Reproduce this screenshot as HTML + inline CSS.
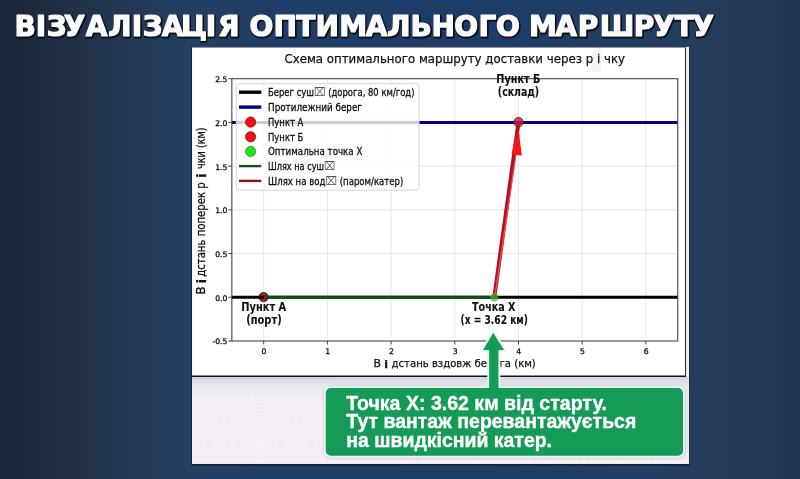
<!DOCTYPE html>
<html lang="uk">
<head>
<meta charset="utf-8">
<title>Візуалізація оптимального маршруту</title>
<style>
html,body{margin:0;padding:0;}
body{width:800px;height:479px;overflow:hidden;position:relative;
  background:linear-gradient(90deg,#1c2738 0%,#1e2c3f 6%,#22344c 12%,#233a57 18%,#233e5e 21%,#243f60 24%,#1e3d68 35%,#1d3d68 65%,#223e62 80%,#243d5e 86%,#233a58 95%,#1f3350 100%);
  font-family:"Liberation Sans","DejaVu Sans",sans-serif;}
svg{position:absolute;left:0;top:0;}
</style>
</head>
<body>
<svg width="800" height="479" viewBox="0 0 800 479">

<g font-family="DejaVu Sans, Liberation Sans, sans-serif" font-weight="bold" font-size="28" fill="#fbfbfb">
<g fill="#0b111c" stroke="#0b111c" stroke-width="3.2" stroke-linejoin="round" transform="translate(0.7,1)">
<text x="14.45 35.65 46.70 63.85 85.85 108.20 131.75 142.80 161.75 180.90 205.65 218.10" y="36">ВІЗУАЛІЗАЦІЯ</text>
<text x="249.55 273.50 296.35 315.55 339.15 365.70 387.20 410.50 431.55 454.25 478.60 496.05" y="36">ОПТИМАЛЬНОГО</text>
<text x="529.00 555.35 577.75 599.80 633.85 653.35 674.85 692.40" y="36">МАРШРУТУ</text>
</g><g stroke="#fbfbfb" stroke-width="1.2" stroke-linejoin="round">
<text x="14.45 35.65 46.70 63.85 85.85 108.20 131.75 142.80 161.75 180.90 205.65 218.10" y="36">ВІЗУАЛІЗАЦІЯ</text>
<text x="249.55 273.50 296.35 315.55 339.15 365.70 387.20 410.50 431.55 454.25 478.60 496.05" y="36">ОПТИМАЛЬНОГО</text>
<text x="529.00 555.35 577.75 599.80 633.85 653.35 674.85 692.40" y="36">МАРШРУТУ</text>
</g></g>
<defs>
<linearGradient id="lowg" x1="0" y1="0" x2="0" y2="1">
<stop offset="0" stop-color="#d2d3dc"/><stop offset="0.12" stop-color="#e9e8ef"/>
<stop offset="0.3" stop-color="#f4eff5"/><stop offset="1" stop-color="#f6f0f5"/>
</linearGradient>
<pattern id="grid" x="192" y="376" width="9" height="9" patternUnits="userSpaceOnUse">
<path d="M0,0.5 H9 M0.5,0 V9" stroke="#e2e0ea" stroke-width="0.8" fill="none"/>
</pattern>
</defs>
<rect x="191" y="46.3" width="498.5" height="419.3" fill="#10233f"/>
<rect x="192" y="46.8" width="497" height="417" fill="#f4f3f8"/>
<rect x="192" y="376" width="496.5" height="87.8" fill="url(#lowg)"/>
<rect x="192" y="376" width="496.5" height="87.8" fill="url(#grid)" opacity="0.35"/>
<rect x="192.6" y="47.6" width="492.6" height="328.4" fill="#ffffff"/>
<line x1="192" y1="376.3" x2="686" y2="376.3" stroke="#0e1420" stroke-width="1.4"/>
<line x1="685.6" y1="47.5" x2="685.6" y2="376.5" stroke="#1a1e26" stroke-width="1"/>
<line x1="192" y1="47.1" x2="686" y2="47.1" stroke="#1c2a40" stroke-width="0.8"/>

<rect x="591.5" y="51" width="9.8" height="21" fill="#f2f3f8"/>
<text x="284.5" y="63" font-size="12.9" fill="#111" stroke="#111" stroke-width="0.25" textLength="340.5" lengthAdjust="spacingAndGlyphs" font-family="DejaVu Sans, Liberation Sans, sans-serif">Схема оптимального маршруту доставки через р  і  чку</text>
<g stroke="#e5e5e5" stroke-width="0.9">
<line x1="263.70" y1="78.72" x2="263.70" y2="341.01"/>
<line x1="327.40" y1="78.72" x2="327.40" y2="341.01"/>
<line x1="391.10" y1="78.72" x2="391.10" y2="341.01"/>
<line x1="454.80" y1="78.72" x2="454.80" y2="341.01"/>
<line x1="518.50" y1="78.72" x2="518.50" y2="341.01"/>
<line x1="582.20" y1="78.72" x2="582.20" y2="341.01"/>
<line x1="645.90" y1="78.72" x2="645.90" y2="341.01"/>
<line x1="231.85" y1="122.44" x2="677.75" y2="122.44"/>
<line x1="231.85" y1="166.16" x2="677.75" y2="166.16"/>
<line x1="231.85" y1="209.87" x2="677.75" y2="209.87"/>
<line x1="231.85" y1="253.59" x2="677.75" y2="253.59"/>
<line x1="231.85" y1="297.30" x2="677.75" y2="297.30"/>
</g>
<circle cx="263.60" cy="297.10" r="4.7" fill="#b01824" stroke="#6a0a10" stroke-width="0.8"/>
<line x1="231.85" y1="122.44" x2="677.75" y2="122.44" stroke="#00008b" stroke-width="3"/>
<line x1="231.85" y1="297.30" x2="677.75" y2="297.30" stroke="#000" stroke-width="3"/>
<line x1="263.70" y1="297.30" x2="494.29" y2="297.30" stroke="#10581a" stroke-width="3" stroke-opacity="0.9"/>
<line x1="494.29" y1="297.30" x2="518.50" y2="122.44" stroke="#b3101c" stroke-width="4"/>
<line x1="495.19" y1="294.30" x2="519.00" y2="134.44" stroke="#ee5060" stroke-width="1.2"/>
<polygon points="518.20,125.84 511.6,153.8 521.8,155.8" fill="#ff1212"/>
<line x1="516.90" y1="138.44" x2="518.10" y2="127.44" stroke="#b3101c" stroke-width="1.1"/>
<circle cx="518.50" cy="122.14" r="4.8" fill="#c01838" fill-opacity="0.82" stroke="#6e0a20" stroke-width="0.6"/>
<circle cx="494.39" cy="297.40" r="4.1" fill="#3cb43c" fill-opacity="0.7"/>
<rect x="231.85" y="78.72" width="445.90" height="262.29" fill="none" stroke="#333" stroke-width="1"/>
<rect x="236.3" y="83.7" width="182.7" height="106.5" rx="3" fill="#ffffff" fill-opacity="0.8" stroke="#d4d4d4" stroke-width="1"/>
<line x1="239" y1="92.2" x2="261.3" y2="92.2" stroke="#000" stroke-width="3.4"/>
<line x1="239" y1="107.1" x2="261.3" y2="107.1" stroke="#00008b" stroke-width="3.4"/>
<circle cx="250.6" cy="122.1" r="5.1" fill="#ee1111" stroke="#a00a0a" stroke-width="0.8"/>
<circle cx="250.6" cy="136.8" r="5.1" fill="#ee1111" stroke="#a00a0a" stroke-width="0.8"/>
<circle cx="250.6" cy="151.5" r="5.1" fill="#22e022" stroke="#10a010" stroke-width="0.8"/>
<line x1="239" y1="166.1" x2="261.3" y2="166.1" stroke="#17521a" stroke-width="2.4"/>
<line x1="239" y1="180.9" x2="261.3" y2="180.9" stroke="#901018" stroke-width="2.4"/>
<g font-family="DejaVu Sans, Liberation Sans, sans-serif" font-size="10.2" fill="#111" stroke="#111" stroke-width="0.3">
<text x="268" y="95.9" textLength="146.5" lengthAdjust="spacingAndGlyphs">Берег суш<tspan fill="#555" stroke="none" font-family="DejaVu Sans, sans-serif" font-size="12">⌧</tspan> (дорога, 80 км/год)</text>
<text x="268" y="110.8" textLength="94" lengthAdjust="spacingAndGlyphs">Протилежний берег</text>
<text x="268" y="125.8" textLength="35.4" lengthAdjust="spacingAndGlyphs">Пункт А</text>
<text x="268" y="140.5" textLength="35.4" lengthAdjust="spacingAndGlyphs">Пункт Б</text>
<text x="268" y="155.2" textLength="94.4" lengthAdjust="spacingAndGlyphs">Оптимальна точка X</text>
<text x="268" y="169.8" textLength="67" lengthAdjust="spacingAndGlyphs">Шлях на суш<tspan fill="#555" stroke="none" font-family="DejaVu Sans, sans-serif" font-size="12">⌧</tspan></text>
<text x="268" y="184.6" textLength="135.4" lengthAdjust="spacingAndGlyphs">Шлях на вод<tspan fill="#555" stroke="none" font-family="DejaVu Sans, sans-serif" font-size="12">⌧</tspan> (паром/катер)</text>
</g>
<g font-family="DejaVu Sans, Liberation Sans, sans-serif" font-weight="bold" font-size="11.4" fill="#111" stroke="#111" stroke-width="0.1" text-anchor="middle">
<text x="263.75" y="311.0" textLength="45" lengthAdjust="spacingAndGlyphs">Пункт А</text>
<text x="263.95" y="324.3" textLength="35.5" lengthAdjust="spacingAndGlyphs">(порт)</text>
<text x="493.75" y="311.0" textLength="43.5" lengthAdjust="spacingAndGlyphs">Точка X</text>
<text x="494.25" y="324.3" textLength="67.5" lengthAdjust="spacingAndGlyphs">(x = 3.62 км)</text>
<text x="518.30" y="82.6" textLength="44" lengthAdjust="spacingAndGlyphs">Пункт Б</text>
<text x="518.50" y="96.3" textLength="41.3" lengthAdjust="spacingAndGlyphs">(склад)</text>
</g>
<g stroke="#333" stroke-width="0.9">
<line x1="228.35" y1="78.72" x2="231.85" y2="78.72"/>
<line x1="228.35" y1="122.44" x2="231.85" y2="122.44"/>
<line x1="228.35" y1="166.16" x2="231.85" y2="166.16"/>
<line x1="228.35" y1="209.87" x2="231.85" y2="209.87"/>
<line x1="228.35" y1="253.59" x2="231.85" y2="253.59"/>
<line x1="228.35" y1="297.30" x2="231.85" y2="297.30"/>
<line x1="228.35" y1="341.01" x2="231.85" y2="341.01"/>
<line x1="263.70" y1="341.01" x2="263.70" y2="344.51"/>
<line x1="327.40" y1="341.01" x2="327.40" y2="344.51"/>
<line x1="391.10" y1="341.01" x2="391.10" y2="344.51"/>
<line x1="454.80" y1="341.01" x2="454.80" y2="344.51"/>
<line x1="518.50" y1="341.01" x2="518.50" y2="344.51"/>
<line x1="582.20" y1="341.01" x2="582.20" y2="344.51"/>
<line x1="645.90" y1="341.01" x2="645.90" y2="344.51"/>
</g>
<g font-family="DejaVu Sans, Liberation Sans, sans-serif" font-size="7.7" fill="#111" stroke="#111" stroke-width="0.3" text-anchor="end">
<text x="227.4" y="82.12">2.5</text>
<text x="227.4" y="125.84">2.0</text>
<text x="227.4" y="169.56">1.5</text>
<text x="227.4" y="213.27">1.0</text>
<text x="227.4" y="256.99">0.5</text>
<text x="227.4" y="300.70">0.0</text>
<text x="227.4" y="344.41">-0.5</text>
</g>
<g font-family="DejaVu Sans, Liberation Sans, sans-serif" font-size="7.7" fill="#111" stroke="#111" stroke-width="0.3" text-anchor="middle">
<text x="264.00" y="354.1">0</text>
<text x="327.70" y="354.1">1</text>
<text x="391.40" y="354.1">2</text>
<text x="455.10" y="354.1">3</text>
<text x="518.80" y="354.1">4</text>
<text x="582.50" y="354.1">5</text>
<text x="646.20" y="354.1">6</text>
</g>
<g font-family="DejaVu Sans, Liberation Sans, sans-serif" font-size="10.9" fill="#111" stroke="#111" stroke-width="0.25">
<text x="373.4" y="366.9">В</text>
<text x="384.2" y="367.6" font-weight="bold">і</text>
<text x="391.6" y="366.9" textLength="144.2" lengthAdjust="spacingAndGlyphs">дстань вздовж берега (км)</text>
</g>
<g transform="translate(205.1,0) rotate(-90)" font-family="DejaVu Sans, Liberation Sans, sans-serif" font-size="12.3" fill="#111" stroke="#111" stroke-width="0.3">
<text x="-294.8" y="0">В</text>
<text x="-283.2" y="1.2" font-weight="bold">і</text>
<text x="-276.8" y="0" textLength="94.5" lengthAdjust="spacingAndGlyphs">дстань поперек р</text>
<text x="-177.8" y="1.2" font-weight="bold">і</text>
<text x="-169.0" y="0" textLength="41.6" lengthAdjust="spacingAndGlyphs">чки (км)</text>
</g>
<defs><filter id="sh" x="-5%" y="-20%" width="110%" height="140%"><feGaussianBlur stdDeviation="1.6"/></filter></defs>
<rect x="323.8" y="386.6" width="362" height="72" rx="7" fill="#6a6a80" opacity="0.3" filter="url(#sh)"/>
<path d="M493.2,331 L505.8,351 L499.4,351 L499.4,389 L488.2,389 L488.2,351 L481.4,351 Z" fill="#159a58" stroke="#e2f8ec" stroke-width="2" stroke-linejoin="round"/>
<rect x="324.8" y="387" width="359.2" height="69.8" rx="6" fill="#159a58" stroke="#e2f8ec" stroke-width="2"/>
<rect x="489.2" y="385" width="9.2" height="4.5" fill="#159a58"/>
<g font-family="Liberation Sans, sans-serif" font-weight="bold" font-size="19.3" fill="#ffffff" stroke="#ffffff" stroke-width="0.35">
<text x="346.3" y="409.8" textLength="260.7" lengthAdjust="spacingAndGlyphs">Точка X: 3.62 км від старту.</text>
<text x="346.3" y="428.4" textLength="290" lengthAdjust="spacingAndGlyphs">Тут вантаж перевантажується</text>
<text x="346.3" y="446.7" textLength="205.7" lengthAdjust="spacingAndGlyphs">на швидкісний катер.</text>
</g>
</svg>
</body>
</html>
